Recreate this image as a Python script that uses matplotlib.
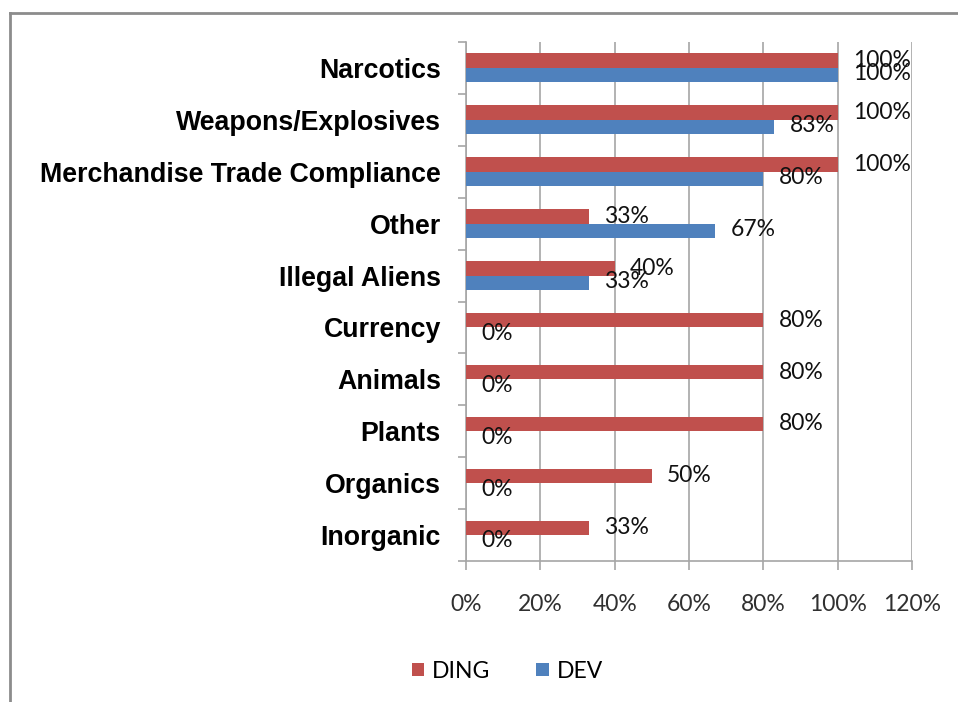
import numpy as np
import matplotlib
matplotlib.use("Agg")
import matplotlib.pyplot as plt
import matplotlib.ticker as ticker
from matplotlib.lines import Line2D

# data, top to bottom as in the chart
categories = ["Narcotics", "Weapons/Explosives", "Merchandise Trade Compliance",
              "Other", "Illegal Aliens", "Currency", "Animals", "Plants",
              "Organics", "Inorganic"]
ding = [100, 100, 100, 33, 40, 80, 80, 80, 50, 33]
dev = [100, 83, 80, 67, 33, 0, 0, 0, 0, 0]
xticks = [0, 20, 40, 60, 80, 100, 120]

red = "#C0504D"
blue = "#4F81BD"
grid_col = "#A6A6A6"

fig = plt.figure(figsize=(9.58, 7.02), dpi=100)
ax = fig.add_axes([466/958, 1-561/702, (912-466)/958, (561-42)/702])

y = np.arange(len(categories))
h = 0.28
ax.barh(y - h/2, ding, height=h, color=red, linewidth=0, zorder=3, label="DING")
ax.barh(y + h/2, dev, height=h, color=blue, linewidth=0, zorder=3, label="DEV")

# data labels
for i in range(len(categories)):
    ax.annotate(f"{ding[i]}%", (ding[i], y[i] - h/2), xytext=(11, 0), textcoords="offset points",
                ha="left", va="center", fontsize=16.5, family="Lato", color="#111111", zorder=5)
    ax.annotate(f"{dev[i]}%", (dev[i], y[i] + h/2), xytext=(11, 1), textcoords="offset points",
                ha="left", va="center", fontsize=16.5, family="Lato", color="#111111", zorder=5)

ax.set_xlim(0, 120)
ax.set_ylim(len(categories) - 0.5, -0.5)
ax.set_xticks(xticks)
ax.xaxis.set_major_formatter(ticker.FuncFormatter(lambda v, p: f"{int(v)}%"))
ax.grid(axis="x", color=grid_col, linewidth=1.2, zorder=0)

# category labels centred, ticks at the boundaries
ax.set_yticks(np.arange(len(categories) + 1) - 0.5)
ax.set_yticklabels([])
ax.set_yticks(y, minor=True)
ax.set_yticklabels(categories, minor=True, fontsize=19.3, fontweight="bold", family="Liberation Sans")
ax.tick_params(axis="y", which="minor", length=0, pad=18)
ax.tick_params(axis="y", which="major", length=6, width=1.2, color=grid_col, direction="out")
ax.tick_params(axis="x", length=6.5, width=1.2, color=grid_col, pad=17, labelsize=16.5, labelcolor="#303030")
for lbl in ax.get_xticklabels():
    lbl.set_family("Lato")

for s in ["top", "right"]:
    ax.spines[s].set_visible(False)
for s in ["left", "bottom"]:
    ax.spines[s].set_color(grid_col)
    ax.spines[s].set_linewidth(1.2)

fig.legend(loc="center", bbox_to_anchor=(0.5297, 0.044), ncol=2, frameon=False,
           prop={"family": "Lato", "size": 16.5}, handlelength=0.55, handleheight=0.55,
           handletextpad=0.35, columnspacing=2.0)

# outer frame (top and left edges visible)
fig.add_artist(Line2D([10/958, 1], [1-13/702, 1-13/702], color="#8C8C8C", linewidth=2, transform=fig.transFigure))
fig.add_artist(Line2D([10/958, 10/958], [0, 1-13/702], color="#8C8C8C", linewidth=2, transform=fig.transFigure))

fig.savefig("out.png", dpi=100)
